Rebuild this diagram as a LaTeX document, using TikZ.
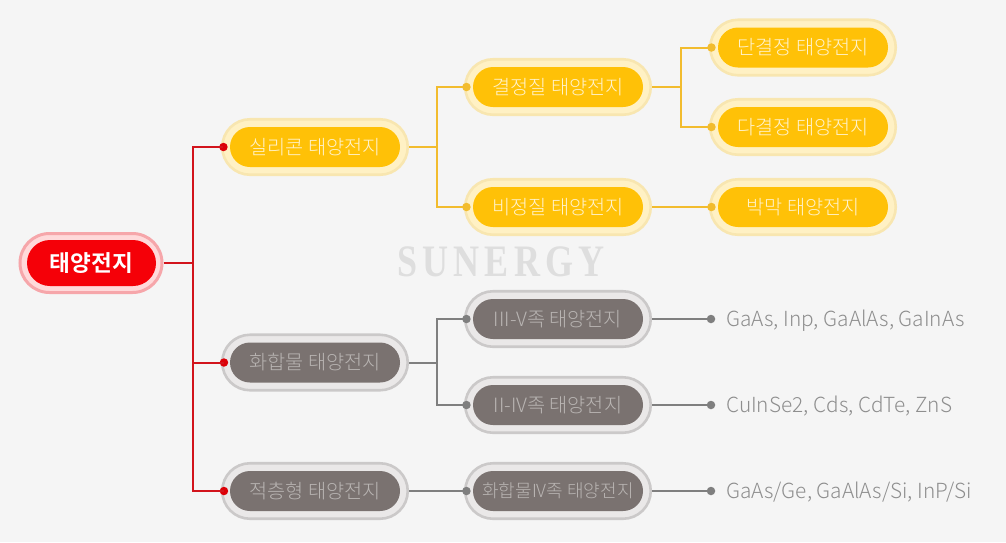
\documentclass[tikz,border=0pt]{standalone}
\usepackage{fontspec}
\usetikzlibrary{shapes.misc,calc}
\setmainfont{Noto Sans CJK KR Light}
\newfontfamily\krbold{Noto Sans CJK KR Bold}
\newfontfamily\wm[LetterSpace=14]{Liberation Serif Bold}
\definecolor{bgc}{HTML}{F5F5F5}
\definecolor{yl}{HTML}{FFC107}
\definecolor{ylring}{HTML}{FFF1C4}
\definecolor{yledge}{HTML}{F8E6B0}
\definecolor{ylline}{HTML}{F2BC2E}
\definecolor{ylt}{HTML}{FFF3CC}
\definecolor{gy}{HTML}{7A7270}
\definecolor{gyring}{HTML}{EAE8E8}
\definecolor{gyedge}{HTML}{CBC9C9}
\definecolor{gyline}{HTML}{7F7F7F}
\definecolor{gyt}{HTML}{B9B5B3}
\definecolor{lf}{HTML}{8E8E8E}
\definecolor{rd}{HTML}{F50008}
\definecolor{rdring}{HTML}{FFD9DA}
\definecolor{rdedge}{HTML}{F6A6AA}
\definecolor{rdline}{HTML}{D2141C}
\tikzset{
  ringb/.style={rounded rectangle,minimum width=#1,minimum height=55.5,inner sep=0,line width=2.6},
  core/.style={rounded rectangle,minimum width=170,minimum height=40,inner sep=0,font=\fontsize{19.7}{21}\selectfont},
  yring/.style={ringb=185.5,draw=yledge,fill=ylring},
  gring/.style={ringb=185.5,draw=gyedge,fill=gyring},
  ycore/.style={core,fill=yl,text=ylt},
  gcore/.style={core,fill=gy,text=gyt},
  yw/.style={line width=2,color=ylline},
  gw/.style={line width=2,color=gyline},
  rw/.style={line width=2,color=rdline},
  ydot/.style={circle,inner sep=0,minimum size=8.5,fill=ylline},
  gdot/.style={circle,inner sep=0,minimum size=8.5,fill=gyline},
  rdot/.style={circle,inner sep=0,minimum size=8.5,fill=rd!90!black},
  leaf/.style={anchor=west,inner sep=0,text=lf,font=\fontsize{20.8}{22}\selectfont},
}
\newcommand{\pill}[6]{% name, x, y, ringstyle, corestyle, text
  \node[#4] (#1) at (#2,#3) {};
  \node[#5] (#1c) at (#2,#3) {\raisebox{-1.3pt}{#6}};
}
\begin{document}
\begin{tikzpicture}[x=1pt,y=-1pt]
\useasboundingbox (0,0) rectangle (1006,542);
\fill[bgc] (0,0) rectangle (1006,542);
\node[text=black!13,font=\wm\fontsize{36}{38}\selectfont,inner sep=0,yscale=1.25] (wm) at (501,262) {SUNERGY};
% root
\node[rounded rectangle,minimum width=142,minimum height=59,inner sep=0,line width=3,draw=rdedge,fill=rdring] (root) at (91,263) {};
\node[rounded rectangle,minimum width=129,minimum height=46,inner sep=0,fill=rd,text=white,font=\krbold\fontsize{22.6}{24}\selectfont] (rootc) at (91.5,263) {\raisebox{-1pt}{태양전지}};
% level 1
\pill{sil}{315}{147}{yring}{ycore}{실리콘 태양전지}
\pill{com}{315}{362.5}{gring}{gcore}{화합물 태양전지}
\pill{tan}{315}{491}{gring}{gcore}{적층형 태양전지}
% level 2
\pill{cry}{558}{87}{yring}{ycore}{결정질 태양전지}
\pill{amo}{558}{207}{yring}{ycore}{비정질 태양전지}
\pill{tv}{558}{319}{gring}{gcore}{III-V족 태양전지}
\pill{tw}{558}{405}{gring}{gcore}{II-IV족 태양전지}
\pill{hiv}{558}{491}{gring}{gcore,font=\fontsize{18}{20}\selectfont}{화합물IV족 태양전지}
% level 3
\pill{mono}{803}{47.5}{yring}{ycore}{단결정 태양전지}
\pill{poly}{803}{127}{yring}{ycore}{다결정 태양전지}
\pill{thin}{803}{207}{yring}{ycore}{박막 태양전지}
% leaves
\node[leaf] (l1) at (726,320.5) {GaAs, Inp, GaAlAs, GaInAs};
\node[leaf] (l2) at (726,406.5) {CuInSe2, Cds, CdTe, ZnS};
\node[leaf] (l3) at (726,492.5) {GaAs/Ge, GaAlAs/Si, InP/Si};
% dots
\node[rdot] (dsil) at ($(sil.west)+(2.5,0)$) {};
\node[rdot] (dcom) at ($(com.west)+(3,0)$) {};
\node[rdot] (dtan) at ($(tan.west)+(3,0)$) {};
\node[ydot] (dcry) at ($(cry.west)+(2.5,0)$) {};
\node[ydot] (damo) at ($(amo.west)+(2.5,0)$) {};
\node[ydot] (dmono) at ($(mono.west)+(2.5,0)$) {};
\node[ydot] (dpoly) at ($(poly.west)+(2.5,0)$) {};
\node[ydot] (dthin) at ($(thin.west)+(2.5,0)$) {};
\node[gdot] (dtv) at ($(tv.west)+(2.5,0)$) {};
\node[gdot] (dtw) at ($(tw.west)+(2.5,0)$) {};
\node[gdot] (dhiv) at ($(hiv.west)+(2.5,0)$) {};
\node[gdot] (dl1) at (711,319) {};
\node[gdot] (dl2) at (711,405) {};
\node[gdot] (dl3) at (711,491) {};
% junctions
\coordinate (jr) at (192.5,263);
\coordinate (js) at (437,147);
\coordinate (jc) at (681,87);
\coordinate (jg) at (437,362.5);
% connectors
\draw[rw] (root.east) -- (jr);
\draw[rw] (dsil.center) -| (jr) |- (dcom.center);
\draw[rw] (jr) |- (dtan.center);
\draw[yw] (sil.east) -- (js);
\draw[yw] (dcry.center) -| (js) |- (damo.center);
\draw[yw] (cry.east) -- (jc);
\draw[yw] (dmono.center) -| (jc) |- (dpoly.center);
\draw[yw] (amo.east) -- (dthin.center);
\draw[gw] (com.east) -- (jg);
\draw[gw] (dtv.center) -| (jg) |- (dtw.center);
\draw[gw] (tan.east) -- (dhiv.center);
\draw[gw] (tv.east) -- (dl1.center);
\draw[gw] (tw.east) -- (dl2.center);
\draw[gw] (hiv.east) -- (dl3.center);
\end{tikzpicture}
\end{document}
